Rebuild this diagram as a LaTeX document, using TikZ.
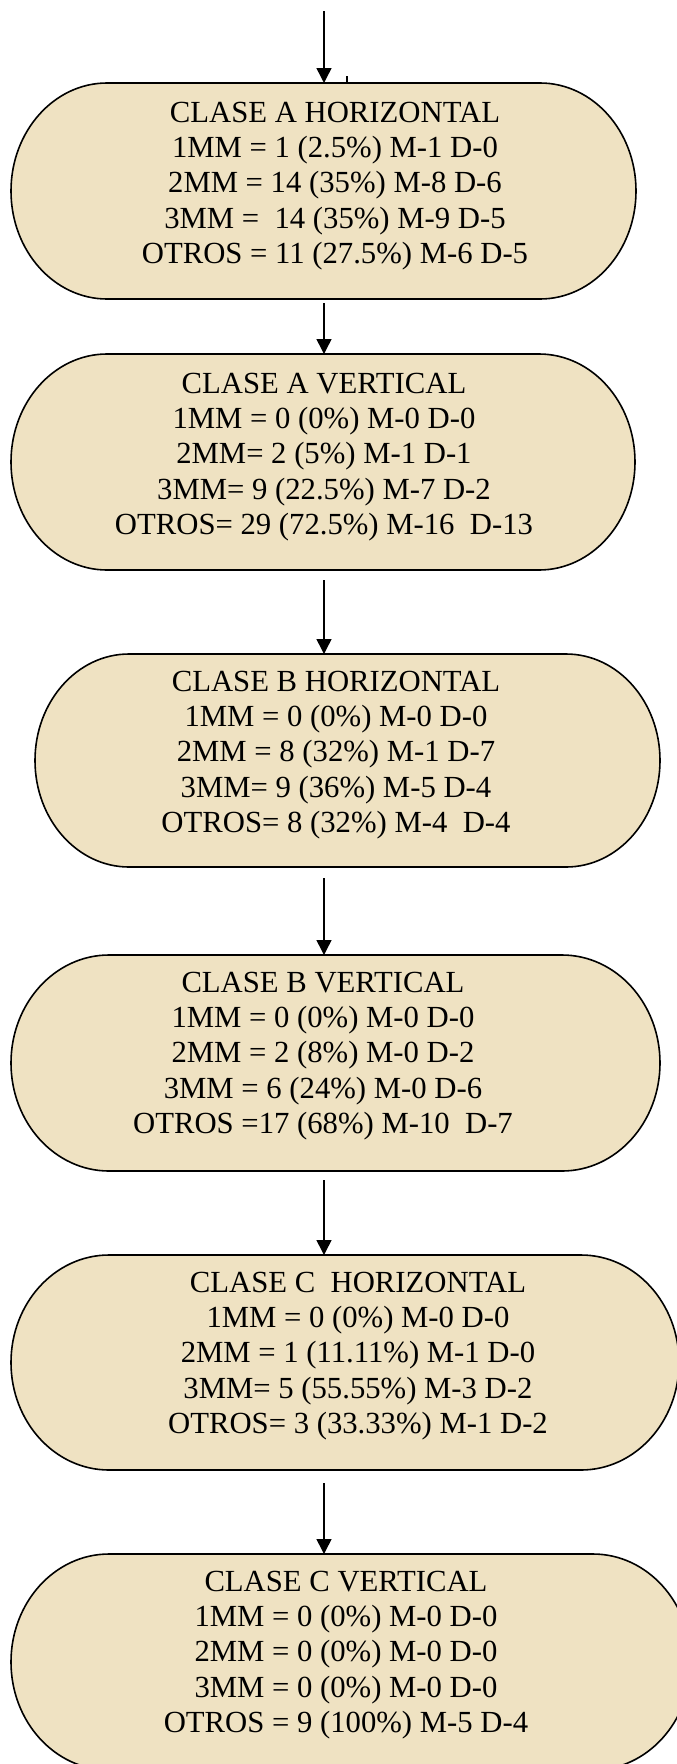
\documentclass[tikz,border=0pt]{standalone}
\usepackage{fontspec}
\setmainfont{Liberation Serif}
\usetikzlibrary{arrows.meta,calc}
\definecolor{parch}{RGB}{239,226,194}
\tikzset{
  boxarea/.style={rectangle, inner sep=0pt, outer sep=0pt, draw=none},
  capsule/.style={fill=parch, draw=black, line width=1.6pt},
  txt/.style={align=center, inner sep=0pt, font=\fontsize{30.7}{35.2}\selectfont},
  arr/.style={-{Triangle[width=15pt,length=15pt]}, line width=1.5pt},
}
\newcommand\capsuleshape[3]{%
  \filldraw[capsule] ([xshift=#2]#1.north west) -- ([xshift=-#2]#1.north east)
    arc[start angle=90,end angle=-90,x radius=#2,y radius=#3]
    -- ([xshift=#2]#1.south west)
    arc[start angle=270,end angle=90,x radius=#2,y radius=#3] -- cycle;}
\begin{document}
\begin{tikzpicture}[x=1pt,y=1pt]
\useasboundingbox (0,0) rectangle (677,-1764);
\clip (0,0) rectangle (677,-1764);
% box areas
\node[boxarea, minimum width=625pt, minimum height=216pt] (b1) at (323.5,-191) {};
\node[boxarea, minimum width=624pt, minimum height=216pt] (b2) at (323,-462) {};
\node[boxarea, minimum width=625pt, minimum height=213pt] (b3) at (347.5,-760.5) {};
\node[boxarea, minimum width=649pt, minimum height=216pt] (b4) at (335.5,-1063) {};
\node[boxarea, minimum width=668pt, minimum height=215pt] (b5) at (345,-1362.5) {};
\node[boxarea, minimum width=680pt, minimum height=216pt] (b6) at (351,-1662) {};
\capsuleshape{b1}{96pt}{108pt}
\capsuleshape{b2}{96pt}{108pt}
\capsuleshape{b3}{94pt}{106.5pt}
\capsuleshape{b4}{98pt}{108pt}
\capsuleshape{b5}{98pt}{107.5pt}
\capsuleshape{b6}{98pt}{108pt}
% texts
\node[txt] (t1) at (335,-186) {CLASE A HORIZONTAL\\1MM = 1 (2.5\%) M-1 D-0\\2MM = 14 (35\%) M-8 D-6\\3MM =\ \ 14 (35\%) M-9 D-5\\OTROS = 11 (27.5\%) M-6 D-5};
\node[txt] (t2) at (324,-457) {CLASE A VERTICAL\\1MM = 0 (0\%) M-0 D-0\\2MM= 2 (5\%) M-1 D-1\\3MM= 9 (22.5\%) M-7 D-2\\OTROS= 29 (72.5\%) M-16\ \ D-13};
\node[txt] (t3) at (336,-755) {CLASE B HORIZONTAL\\1MM = 0 (0\%) M-0 D-0\\2MM = 8 (32\%) M-1 D-7\\3MM= 9 (36\%) M-5 D-4\\OTROS= 8 (32\%) M-4\ \ D-4};
\node[txt] (t4) at (323,-1056) {CLASE B VERTICAL\\1MM = 0 (0\%) M-0 D-0\\2MM = 2 (8\%) M-0 D-2\\3MM = 6 (24\%) M-0 D-6\\OTROS =17 (68\%) M-10\ \ D-7};
\node[txt] (t5) at (358,-1356) {CLASE C\ \ HORIZONTAL\\1MM = 0 (0\%) M-0 D-0\\2MM = 1 (11.11\%) M-1 D-0\\3MM= 5 (55.55\%) M-3 D-2\\OTROS= 3 (33.33\%) M-1 D-2};
\node[txt] (t6) at (346,-1655) {CLASE C VERTICAL\\1MM = 0 (0\%) M-0 D-0\\2MM = 0 (0\%) M-0 D-0\\3MM = 0 (0\%) M-0 D-0\\OTROS = 9 (100\%) M-5 D-4};
% arrows
\coordinate (s0) at (324,-11);
\coordinate (s1) at (324,-303);
\coordinate (s2) at (324,-580);
\coordinate (s3) at (324,-878);
\coordinate (s4) at (324,-1180);
\coordinate (s5) at (324,-1483);
\coordinate (tk) at (347,-76);
\draw[arr] (s0) -- (s0 |- b1.north);
\draw[arr] (s1) -- (s1 |- b2.north);
\draw[arr] (s2) -- (s2 |- b3.north);
\draw[arr] (s3) -- (s3 |- b4.north);
\draw[arr] (s4) -- (s4 |- b5.north);
\draw[arr] (s5) -- (s5 |- b6.north);
\draw[line width=1.3pt] (tk) -- (tk |- b1.north);
\end{tikzpicture}
\end{document}
